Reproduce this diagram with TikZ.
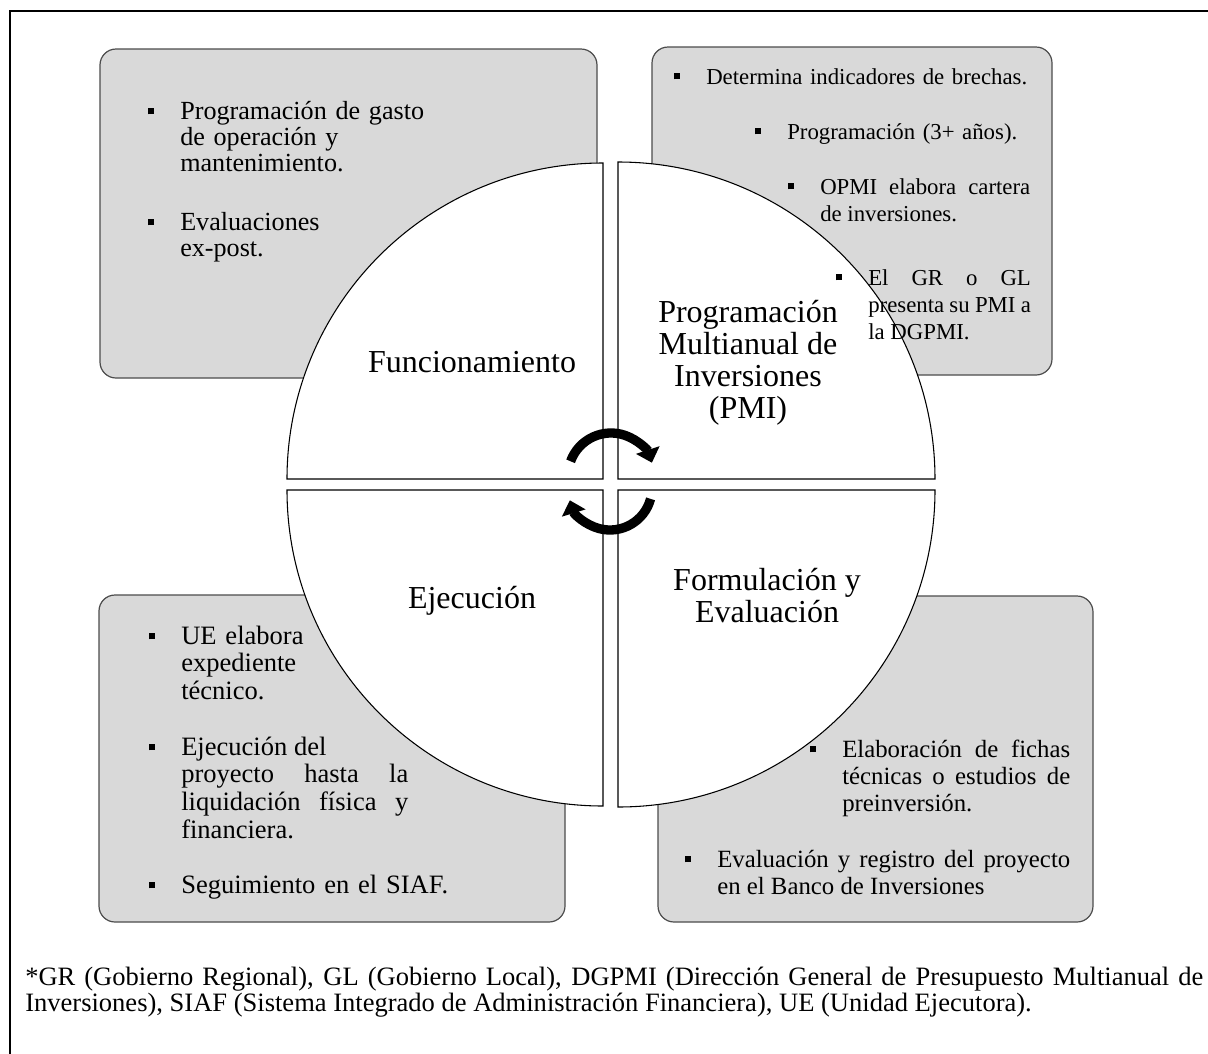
\documentclass[tikz,border=0pt]{standalone}
\usepackage{fontspec}
\setmainfont{Liberation Serif}
\usepackage{xcolor}
\usepackage{tikz}
\usetikzlibrary{arrows.meta}
\hyphenpenalty=10000
\exhyphenpenalty=10000
\newcommand{\sqbullet}{\llap{\rule[3.5pt]{5pt}{5pt}\hspace{19.5pt}}}

\begin{document}
\begin{tikzpicture}[x=0.75pt, y=-0.75pt,
    panel/.style={draw=black!70, line width=0.9pt, fill=black!15, rounded corners=12pt},
    quarter/.style={draw, fill=white, line width=0.8pt},
    phase/.style={align=center, font=\fontsize{24}{24}\selectfont, inner sep=0pt, anchor=base},
    entry/.style={inner sep=0pt, anchor=base west, text width=#1, align=justify},
    entry/.default=200pt,
    turn/.style={line width=7pt, -{Triangle[length=10pt, width=18pt]}}
]
\useasboundingbox (0,0) rectangle (1208,1054);
\begin{scope}
  \clip (0,0) rectangle (1208,1054);
  \draw[line width=1.3pt] (10,11) rectangle (1230,1080);
\end{scope}

% cuadros de actividades
\draw[panel] (100,49) rectangle (597,378);
\draw[panel] (652,47) rectangle (1052,375);
\draw[panel] (99,595) rectangle (565,922);
\draw[panel] (658,596) rectangle (1093,922);

% ciclo
\draw[quarter] (603,479) -- (287,479) arc (180:270:316) -- cycle;
\draw[quarter] (618,479) -- (618,162) arc (270:360:317) -- cycle;
\draw[quarter] (618,490) -- (935,490) arc (0:90:317) -- cycle;
\draw[quarter] (603,490) -- (603,806) arc (90:180:316) -- cycle;

% base = ultima linea
\node[phase] (func) at (472,372) {Funcionamiento};
\node[phase] (pmi) at (748,418) {Programación\\Multianual de\\Inversiones\\(PMI)};
\node[phase] (ejec) at (472,608) {Ejecución};
\node[phase] (form) at (767,622) {Formulación y\\Evaluación};

\coordinate (hubup) at (611,476);
\coordinate (hubdown) at (610,488);
\draw[turn] ([shift={(200:43)}]hubup) arc (200:342:43);
\draw[turn] ([shift={(15:42)}]hubdown) arc (15:163:42);

% textos
\begin{scope}[font=\fontsize{19.6}{19.5}\selectfont]
  \node[entry, align=left] (gasto) at (180,119) {\sqbullet Programación de gasto\newline de operación y\newline mantenimiento.};
  \node[entry, align=left] (expost) at (180,230) {\sqbullet Evaluaciones\newline ex-post.};
\end{scope}
\begin{scope}[font=\fontsize{17.1}{20.6}\selectfont]
  \node[entry=300pt, align=left] (brechas) at (706,84) {\sqbullet Determina indicadores de brechas.};
  \node[entry=250pt, align=left] (anios) at (787,139) {\sqbullet Programación (3+ años).};
  \node[entry=157.5pt] (cartera) at (820,194) {\sqbullet OPMI elabora cartera\linebreak de inversiones.};
  \node[entry=122pt] (entrega) at (868,285) {\sqbullet El GR o GL\linebreak presenta su PMI a\linebreak la DGPMI.};
\end{scope}
\begin{scope}[font=\fontsize{19.9}{20.8}\selectfont]
  \node[entry, align=left] (ue) at (181,644) {\sqbullet UE elabora\newline expediente\newline técnico.};
  \node[entry=170.25pt] (obra) at (181,755) {\sqbullet Ejecución del\newline proyecto hasta la\linebreak liquidación física y\linebreak financiera.};
  \node[entry=250pt, align=left] (siaf) at (181,893) {\sqbullet Seguimiento en el SIAF.};
\end{scope}
\begin{scope}[font=\fontsize{18.6}{20.6}\selectfont]
  \node[entry=171pt] (fichas) at (842,757) {\sqbullet Elaboración de fichas\linebreak técnicas o estudios de\linebreak preinversión.};
  \node[entry=264.75pt] (banco) at (717,867) {\sqbullet Evaluación y registro del proyecto\linebreak en el Banco de Inversiones};
\end{scope}

\node[entry=883.5pt, font=\fontsize{19.9}{20}\selectfont] (siglas) at (25,985) {*GR (Gobierno Regional), GL (Gobierno Local), DGPMI (Dirección General de Presupuesto Multianual de\linebreak Inversiones), SIAF (Sistema Integrado de Administración Financiera), UE (Unidad Ejecutora).};
\end{tikzpicture}
\end{document}
